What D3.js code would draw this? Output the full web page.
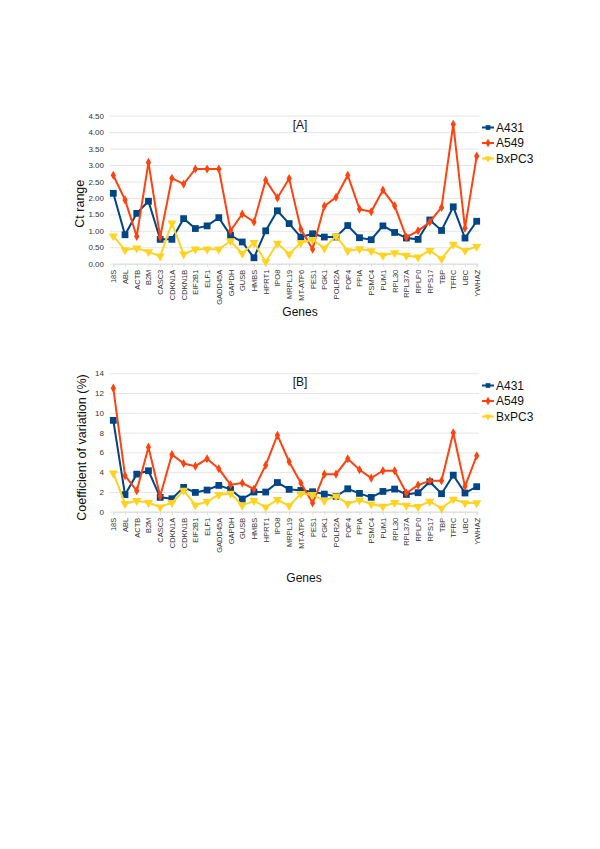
<!DOCTYPE html>
<html>
<head>
<meta charset="utf-8">
<script src="https://cdnjs.cloudflare.com/ajax/libs/d3/7.8.5/d3.min.js"></script>
<style>
  body { margin: 0; background: #ffffff; }
  svg { display: block; font-family: "Liberation Sans", Arial, sans-serif; }
</style>
</head>
<body>
<script>
// genes on the x axis (same for both panels)
var genes = ["18S", "ABL", "ACTB", "B2M", "CASC3", "CDKN1A", "CDKN1B", "EIF2B1", "ELF1", "GADD45A",
    "GAPDH", "GUSB", "HMBS", "HPRT1", "IPO8", "MRPL19", "MT-ATP6", "PES1", "PGK1", "POLR2A",
    "POP4", "PPIA", "PSMC4", "PUM1", "RPL30", "RPL37A", "RPLP0", "RPS17", "TBP", "TFRC", "UBC", "YWHAZ"];
var seriesNames = ["A431", "A549", "BxPC3"];

// panel [A] : Ct range
var ctA431 = [2.14, 0.88, 1.53, 1.90, 0.74, 0.74, 1.37, 1.07, 1.15, 1.40, 0.86, 0.66, 0.18, 1.00, 1.61, 1.22,
    0.81, 0.91, 0.81, 0.81, 1.16, 0.79, 0.73, 1.15, 0.95, 0.78, 0.74, 1.33, 1.01, 1.73, 0.78, 1.29];
var ctA549 = [2.69, 1.94, 0.83, 3.08, 0.81, 2.60, 2.42, 2.88, 2.88, 2.88, 1.00, 1.51, 1.27, 2.54, 2.00, 2.59,
    1.05, 0.44, 1.75, 2.02, 2.69, 1.66, 1.58, 2.24, 1.76, 0.80, 1.00, 1.27, 1.71, 4.24, 1.08, 3.27];
var ctBxPC3 = [0.84, 0.42, 0.47, 0.36, 0.23, 1.23, 0.29, 0.44, 0.44, 0.44, 0.69, 0.31, 0.64, 0.06, 0.62, 0.29,
    0.64, 0.73, 0.47, 0.84, 0.39, 0.45, 0.39, 0.25, 0.33, 0.25, 0.20, 0.40, 0.15, 0.59, 0.40, 0.52];
var ctTicks = [0, 0.5, 1, 1.5, 2, 2.5, 3, 3.5, 4, 4.5];

// panel [B] : coefficient of variation (%)
var cvA431 = [9.24, 1.72, 3.80, 4.14, 1.45, 1.31, 2.46, 1.95, 2.19, 2.66, 2.26, 1.28, 1.99, 1.99, 2.95, 2.26,
    2.15, 2.02, 1.78, 1.55, 2.32, 1.85, 1.45, 2.05, 2.29, 1.75, 1.92, 3.03, 1.82, 3.70, 1.89, 2.53];
var cvA549 = [12.5, 3.64, 2.12, 6.53, 1.58, 5.79, 4.88, 4.61, 5.35, 4.34, 2.73, 2.90, 2.29, 4.71, 7.74, 5.05,
    2.90, 0.88, 3.80, 3.80, 5.35, 4.24, 3.40, 4.14, 4.14, 1.89, 2.69, 3.13, 3.13, 7.98, 2.56, 5.66];
var cvBxPC3 = [3.90, 0.81, 1.11, 0.91, 0.47, 0.91, 2.15, 0.67, 1.01, 1.72, 1.85, 0.64, 1.11, 0.47, 1.21, 0.61,
    1.82, 1.72, 1.11, 1.58, 0.81, 1.18, 0.77, 0.54, 0.91, 0.64, 0.51, 1.04, 0.34, 1.25, 0.88, 0.88];
var cvTicks = [0, 2, 4, 6, 8, 10, 12, 14];

var colors = ["#004586", "#ff420e", "#ffd320"];
var symbols = [
    d3.symbol().type(d3.symbolSquare).size(46),
    d3.symbol().type(d3.symbolDiamond).size(24),
    d3.symbol().type(d3.symbolTriangle).size(36)
];
var rotations = [0, 0, 180];

var svg = d3.select("body").append("svg")
    .attr("width", 600)
    .attr("height", 849);

var plotLeft = 110, plotRight = 479;

function drawPanel(p) {
    var g = svg.append("g");
    var x = d3.scalePoint().domain(genes).range([113.3, 476.7]);
    var y = d3.scaleLinear().domain([0, p.max]).range([p.bottom, p.top]);

    // grid lines
    g.append("g")
        .attr("transform", "translate(" + plotLeft + ",0)")
        .call(d3.axisLeft(y).tickValues(p.ticks).tickSize(-(plotRight - plotLeft)).tickFormat(""))
        .call(function (s) {
            s.select(".domain").remove();
            s.selectAll("line").attr("stroke", "#e6e6e6");
        });

    // y axis labels
    g.append("g")
        .attr("transform", "translate(" + (plotLeft - 3) + ",0)")
        .call(d3.axisLeft(y).tickValues(p.ticks).tickSize(0).tickFormat(p.fmt))
        .call(function (s) {
            s.select(".domain").remove();
            s.selectAll("text")
                .attr("fill", "#333")
                .style("font-size", "8px")
                .style("font-family", "Liberation Sans, Arial, sans-serif");
        });

    // x axis with rotated gene names
    g.append("g")
        .attr("transform", "translate(0," + p.bottom + ")")
        .call(d3.axisBottom(x).tickSize(3))
        .call(function (s) {
            s.select(".domain").attr("stroke", "#dcdcdc");
            s.selectAll(".tick line").attr("stroke", "#dcdcdc");
            s.selectAll("text")
                .attr("fill", "#333")
                .attr("text-anchor", "end")
                .attr("dy", "0.33em")
                .attr("transform", "rotate(-90)")
                .attr("x", -6)
                .attr("y", 0)
                .style("font-size", "7.5px")
                .style("font-family", "Liberation Sans, Arial, sans-serif");
        });

    // series lines and markers
    p.series.forEach(function (vals, i) {
        var line = d3.line()
            .x(function (d, j) { return x(genes[j]); })
            .y(function (d) { return y(d); });
        g.append("path")
            .datum(vals)
            .attr("d", line)
            .attr("fill", "none")
            .attr("stroke", colors[i])
            .attr("stroke-width", 2);
        g.selectAll(null)
            .data(vals)
            .enter()
            .append("path")
            .attr("d", symbols[i])
            .attr("transform", function (d, j) {
                return "translate(" + x(genes[j]) + "," + y(d) + ") rotate(" + rotations[i] + ")";
            })
            .attr("fill", colors[i]);
    });

    // panel tag
    g.append("text")
        .attr("x", 300)
        .attr("y", p.tagY)
        .attr("text-anchor", "middle")
        .style("font-size", "12px")
        .attr("fill", "#111")
        .text(p.tag);

    // axis titles
    g.append("text")
        .attr("transform", "translate(" + p.yTitleX + "," + ((p.top + p.bottom) / 2 + p.yTitleShift) + ") rotate(-90)")
        .attr("text-anchor", "middle")
        .style("font-size", "12.5px")
        .attr("fill", "#111")
        .text(p.yTitle);
    g.append("text")
        .attr("x", p.xTitleX)
        .attr("y", p.xTitleY)
        .attr("text-anchor", "middle")
        .style("font-size", "12px")
        .attr("fill", "#111")
        .text("Genes");

    // legend
    var lg = g.append("g");
    seriesNames.forEach(function (name, i) {
        var ly = p.legendY + i * 15.5;
        lg.append("line")
            .attr("x1", 482).attr("x2", 494)
            .attr("y1", ly).attr("y2", ly)
            .attr("stroke", colors[i])
            .attr("stroke-width", 2);
        lg.append("path")
            .attr("d", d3.symbol().type(symbols[i].type()).size(22))
            .attr("transform", "translate(488," + ly + ") rotate(" + rotations[i] + ")")
            .attr("fill", colors[i]);
        lg.append("text")
            .attr("x", 496)
            .attr("y", ly)
            .attr("dy", "0.35em")
            .style("font-size", "12px")
            .attr("fill", "#111")
            .text(name);
    });
}

drawPanel({
    top: 115.7, bottom: 263.7, max: 4.5, ticks: ctTicks,
    fmt: d3.format(".2f"),
    series: [ctA431, ctA549, ctBxPC3],
    tag: "[A]", tagY: 129,
    yTitle: "Ct range", yTitleX: 84, yTitleShift: 14,
    xTitleX: 300, xTitleY: 316,
    legendY: 127.5
});

drawPanel({
    top: 373.3, bottom: 511.7, max: 14, ticks: cvTicks,
    fmt: d3.format("d"),
    series: [cvA431, cvA549, cvBxPC3],
    tag: "[B]", tagY: 386,
    yTitle: "Coefficient of variation (%)", yTitleX: 86, yTitleShift: 5,
    xTitleX: 304, xTitleY: 582,
    legendY: 385.5
});
</script>
</body>
</html>
